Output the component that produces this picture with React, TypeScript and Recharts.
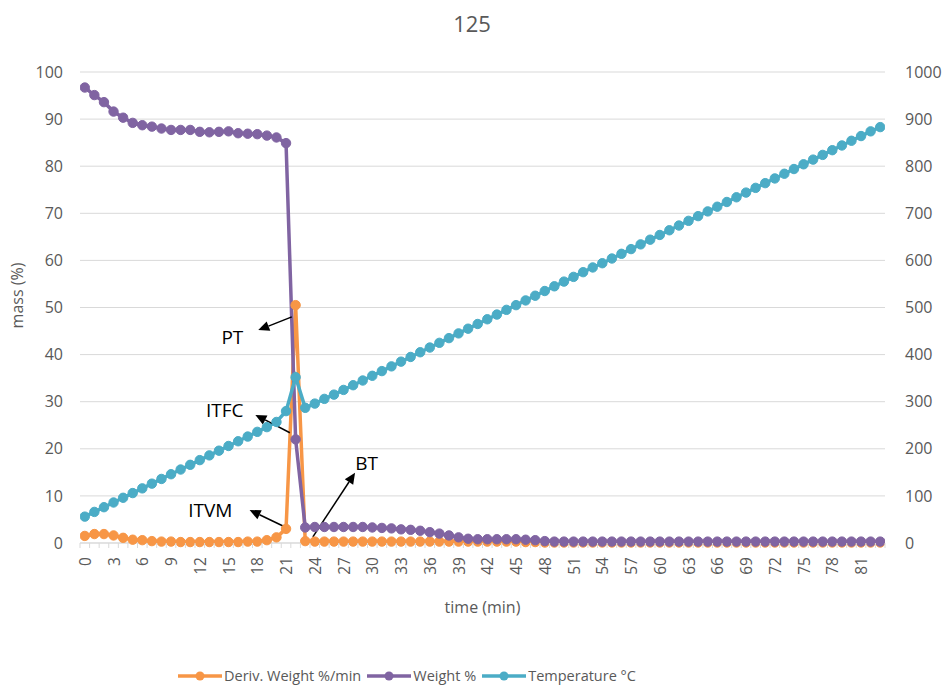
import React from 'react';
import { LineChart, Line, XAxis, YAxis, CartesianGrid, Legend, ReferenceLine, ReferenceDot } from 'recharts';

const time = [
  0, 1, 2, 3, 4, 5, 6, 7, 8, 9, 10, 11, 12, 13, 14, 15, 16, 17, 18, 19, 20,
  21, 22, 23, 24, 25, 26, 27, 28, 29, 30, 31, 32, 33, 34, 35, 36, 37, 38, 39, 40,
  41, 42, 43, 44, 45, 46, 47, 48, 49, 50, 51, 52, 53, 54, 55, 56, 57, 58, 59, 60,
  61, 62, 63, 64, 65, 66, 67, 68, 69, 70, 71, 72, 73, 74, 75, 76, 77, 78, 79, 80,
  81, 82, 83,
];

const derivWeight = [
  1.5, 1.9, 1.9, 1.6, 1.1, 0.7, 0.6, 0.4, 0.3, 0.3, 0.2, 0.2, 0.2, 0.2, 0.2, 0.2, 0.2, 0.3, 0.3, 0.6, 1.2,
  3.0, 50.5, 0.4, 0.3, 0.3, 0.3, 0.3, 0.3, 0.3, 0.3, 0.3, 0.3, 0.3, 0.3, 0.3, 0.3, 0.3, 0.3, 0.3, 0.3,
  0.3, 0.3, 0.3, 0.3, 0.3, 0.2, 0.2, 0.1, 0.1, 0.1, 0.1, 0.1, 0.1, 0.1, 0.1, 0.1, 0.1, 0.1, 0.1, 0.1,
  0.1, 0.1, 0.1, 0.1, 0.1, 0.1, 0.1, 0.1, 0.1, 0.1, 0.1, 0.1, 0.1, 0.1, 0.1, 0.1, 0.1, 0.1, 0.1, 0.1,
  0.1, 0.1, 0.1,
];

const weight = [
  96.7, 95.1, 93.6, 91.6, 90.3, 89.2, 88.7, 88.4, 88.0, 87.7, 87.7, 87.7, 87.3, 87.2, 87.3, 87.4, 87.0, 86.9, 86.8, 86.5, 86.1,
  84.9, 22.0, 3.3, 3.4, 3.4, 3.4, 3.4, 3.4, 3.4, 3.3, 3.2, 3.1, 2.9, 2.8, 2.6, 2.3, 2.0, 1.6, 1.2, 0.9,
  0.8, 0.8, 0.8, 0.8, 0.8, 0.7, 0.6, 0.4, 0.3, 0.3, 0.3, 0.3, 0.3, 0.3, 0.3, 0.3, 0.3, 0.3, 0.3, 0.3,
  0.3, 0.3, 0.3, 0.3, 0.3, 0.3, 0.3, 0.3, 0.3, 0.3, 0.3, 0.3, 0.3, 0.3, 0.3, 0.3, 0.3, 0.3, 0.3, 0.3,
  0.3, 0.3, 0.3,
];

const temperature = [
  56, 66, 76, 86, 96, 106, 116, 126, 136, 146, 156, 166, 176, 186, 196, 206, 216, 226, 236, 246, 257,
  280, 352, 287, 296, 306, 315, 325, 335, 345, 355, 365, 375, 385, 395, 405, 415, 425, 435, 445, 455,
  465, 475, 485, 495, 505, 515, 525, 535, 545, 555, 565, 575, 585, 594, 604, 614, 624, 634, 644, 654,
  664, 674, 684, 694, 704, 714, 724, 734, 744, 754, 764, 774, 784, 794, 804, 814, 824, 834, 844, 854,
  864, 874, 883,
];

const xTickLabels = [0, 3, 6, 9, 12, 15, 18, 21, 24, 27, 30, 33, 36, 39, 42, 45, 48, 51, 54, 57, 60, 63, 66, 69, 72, 75, 78, 81];
const massTicks = [0, 10, 20, 30, 40, 50, 60, 70, 80, 90, 100];
const tempTicks = [0, 100, 200, 300, 400, 500, 600, 700, 800, 900, 1000];

// arrows drawn in the original as shapes: [x, mass] pairs
const annotations = [
  { label: 'PT', tail: [21.6, 48.0], head: [18.1, 45.2], text: [15.4, 43.7] },
  { label: 'ITFC', tail: [21.4, 23.4], head: [17.8, 27.2], text: [14.6, 28.2] },
  { label: 'ITVM', tail: [20.9, 3.4], head: [17.2, 7.0], text: [13.1, 7.0] },
  { label: 'BT', tail: [23.8, 1.3], head: [28.2, 14.9], text: [29.4, 17.0] },
];

const series = [
  { key: 'deriv', name: 'Deriv. Weight %/min', color: '#F79646', axis: 'mass' },
  { key: 'weight', name: 'Weight %', color: '#8064A2', axis: 'mass' },
  { key: 'temp', name: 'Temperature °C', color: '#4BACC6', axis: 'temp' },
];

const data = time.map((t, i) => ({
  t,
  deriv: derivWeight[i],
  weight: weight[i],
  temp: temperature[i],
}));

// tick marks sit between categories, labels on every third category
const boundaryTicks = [...time.map((t) => t - 0.5), time[time.length - 1] + 0.5];
const xTicks = [...boundaryTicks, ...xTickLabels];

const FONT = '"Open Sans", sans-serif';
const GRAY = '#595959';

const XTick = (props: any) => {
  const { x, y, payload } = props;
  const v = payload.value;
  if (!Number.isInteger(v)) {
    return <line x1={x} y1={y} x2={x} y2={y + 5} stroke="#D9D9D9" strokeWidth={1} />;
  }
  return (
    <text
      x={x}
      y={y + 14}
      transform={`rotate(-90, ${x}, ${y + 14})`}
      textAnchor="end"
      dominantBaseline="central"
      fill={GRAY}
      fontSize={15.5}
      fontFamily={FONT}
    >
      {v}
    </text>
  );
};

const Arrow = (props: any) => {
  const { x1, y1, x2, y2 } = props;
  const ang = Math.atan2(y2 - y1, x2 - x1);
  const len = 11;
  const half = 5;
  const bx = x2 - len * Math.cos(ang);
  const by = y2 - len * Math.sin(ang);
  const px = -Math.sin(ang) * half;
  const py = Math.cos(ang) * half;
  return (
    <g>
      <line x1={x1} y1={y1} x2={bx} y2={by} stroke="#000" strokeWidth={1.5} />
      <polygon points={`${x2},${y2} ${bx + px},${by + py} ${bx - px},${by - py}`} fill="#000" />
    </g>
  );
};

const LegendContent = () => (
  <div style={{ display: 'flex', justifyContent: 'flex-start', alignItems: 'center', fontFamily: FONT, fontSize: 14.5, color: GRAY }}>
    {series.map((s) => (
      <div key={s.key} style={{ display: 'flex', alignItems: 'center', marginRight: 6 }}>
        <svg width={44} height={12}>
          <line x1={0} y1={6} x2={44} y2={6} stroke={s.color} strokeWidth={3.5} />
          <circle cx={22} cy={6} r={4.5} fill={s.color} />
        </svg>
        <span style={{ marginLeft: 2 }}>{s.name}</span>
      </div>
    ))}
  </div>
);

export default function App() {
  return (
    <div style={{ position: 'absolute', left: 0, top: 0, width: 944, height: 690, background: '#fff' }}>
      <div
        style={{
          position: 'absolute',
          left: 0,
          top: 8,
          width: 944,
          textAlign: 'center',
          fontFamily: FONT,
          fontSize: 22,
          color: GRAY,
        }}
      >
        125
      </div>
      <LineChart width={944} height={690} data={data} margin={{ top: 72, right: 0, bottom: 47, left: 0 }}>
        <CartesianGrid yAxisId="mass" vertical={false} stroke="#D9D9D9" strokeWidth={1} />
        <XAxis
          dataKey="t"
          type="number"
          domain={[-0.5, 83.5]}
          ticks={xTicks}
          interval={0}
          tick={<XTick />}
          tickLine={false}
          tickSize={0}
          tickMargin={0}
          axisLine={{ stroke: '#D9D9D9' }}
          height={80}
          allowDataOverflow
          label={{ value: 'time (min)', position: 'insideBottom', offset: 10, fill: GRAY, fontSize: 16, fontFamily: FONT }}
        />
        <YAxis
          yAxisId="mass"
          orientation="left"
          domain={[0, 100]}
          ticks={massTicks}
          interval={0}
          width={80}
          tickLine={false}
          axisLine={false}
          tickSize={0}
          tickMargin={17}
          tick={{ fill: GRAY, fontSize: 16, fontFamily: FONT }}
          label={{ value: 'mass (%)', angle: -90, position: 'center', dx: -23, dy: -12, fill: GRAY, fontSize: 16, fontFamily: FONT }}
        />
        <YAxis
          yAxisId="temp"
          orientation="right"
          domain={[0, 1000]}
          ticks={tempTicks}
          interval={0}
          width={59}
          tickLine={false}
          axisLine={false}
          tickSize={0}
          tickMargin={20}
          tick={{ fill: GRAY, fontSize: 16, fontFamily: FONT, textAnchor: 'start' }}
        />
        {series.map((s) => (
          <Line
            key={s.key}
            yAxisId={s.axis}
            dataKey={s.key}
            name={s.name}
            type="linear"
            stroke={s.color}
            strokeWidth={3.5}
            dot={{ r: 4.7, fill: s.color, stroke: s.color, strokeWidth: 1 }}
            activeDot={false}
            isAnimationActive={false}
          />
        ))}
        {annotations.map((a) => (
          <ReferenceLine
            key={`arrow-${a.label}`}
            yAxisId="mass"
            segment={[
              { x: a.tail[0], y: a.tail[1] },
              { x: a.head[0], y: a.head[1] },
            ]}
            shape={<Arrow />}
          />
        ))}
        {annotations.map((a) => (
          <ReferenceDot
            key={`text-${a.label}`}
            yAxisId="mass"
            x={a.text[0]}
            y={a.text[1]}
            r={0}
            shape={(p: any) => (
              <text x={p.cx} y={p.cy} textAnchor="middle" dominantBaseline="central" fontSize={19} fontFamily={FONT} fill="#000">
                {a.label}
              </text>
            )}
          />
        ))}
        <Legend verticalAlign="bottom" height={20} content={<LegendContent />} wrapperStyle={{ left: 178, width: 'auto', bottom: 4 }} />
      </LineChart>
    </div>
  );
}
